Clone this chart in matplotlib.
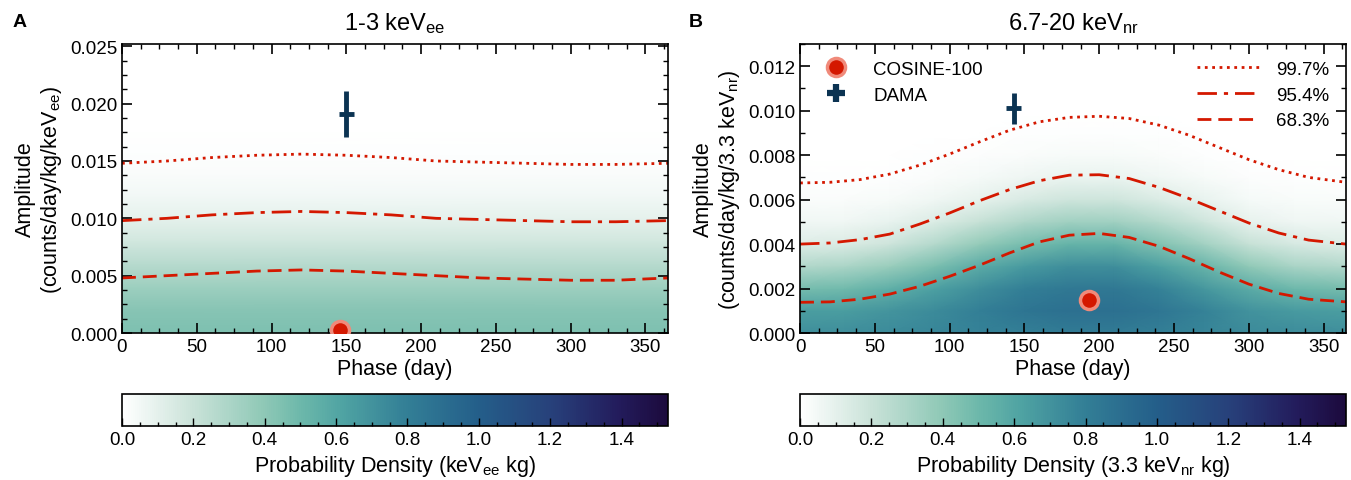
import numpy as np
import matplotlib.pyplot as plt
from matplotlib.colors import LinearSegmentedColormap
from matplotlib.lines import Line2D
from matplotlib.ticker import AutoMinorLocator, MultipleLocator

plt.rcParams['font.family'] = ['Liberation Sans', 'DejaVu Sans']
plt.rcParams['mathtext.default'] = 'regular'

# ---- data ----
# credible-band curves, panel A (1-3 keVee)
phase_a = [0, 30, 60, 90, 120, 150, 180, 210, 240, 270, 300, 330, 365]
a_997 = [0.0148, 0.0150, 0.0153, 0.0155, 0.0156, 0.0155, 0.0153, 0.0150, 0.0149, 0.0148, 0.0147, 0.0147, 0.0148]
a_954 = [0.0098, 0.0100, 0.0103, 0.0105, 0.0106, 0.0105, 0.0103, 0.0100, 0.0099, 0.0098, 0.0097, 0.0097, 0.0098]
a_683 = [0.0048, 0.0050, 0.0052, 0.0054, 0.0055, 0.0054, 0.0052, 0.0050, 0.0048, 0.0047, 0.0046, 0.0046, 0.0048]

# panel B (6.7-20 keVnr)
phase_b = [0, 20, 40, 60, 80, 100, 120, 140, 160, 180, 200, 220, 240, 260, 280, 300, 320, 340, 365]
b_997 = [0.00675, 0.00678, 0.00690, 0.00715, 0.00755, 0.00805, 0.00860, 0.00912, 0.00950, 0.00970,
         0.00975, 0.00965, 0.00935, 0.00890, 0.00835, 0.00780, 0.00735, 0.00700, 0.00678]
b_954 = [0.00400, 0.00405, 0.00420, 0.00445, 0.00490, 0.00540, 0.00595, 0.00645, 0.00685, 0.00710,
         0.00712, 0.00695, 0.00655, 0.00605, 0.00550, 0.00495, 0.00450, 0.00418, 0.00400]
b_683 = [0.00138, 0.00140, 0.00152, 0.00175, 0.00210, 0.00255, 0.00305, 0.00360, 0.00410, 0.00440,
         0.00448, 0.00430, 0.00390, 0.00335, 0.00275, 0.00220, 0.00178, 0.00152, 0.00140]

# best fits / DAMA points: phase, amplitude, errors
cosine_a = (146, 0.0003)
cosine_b = (193, 0.0015)
dama_a = (150, 0.0191, 5, 0.0020)
dama_b = (143, 0.0101, 5, 0.0007)

# probability density maps (rows: amplitude, cols: phase)
dens_amp_a = [0.000, 0.002, 0.004, 0.006, 0.008, 0.010, 0.012, 0.014, 0.016, 0.018, 0.020, 0.022, 0.026]
dens_a_profile = [0.45, 0.42, 0.35, 0.26, 0.17, 0.10, 0.05, 0.022, 0.009, 0.003, 0.001, 0.0, 0.0]
dens_phase_a = [0, 365]

dens_amp_b = [0.000, 0.001, 0.002, 0.003, 0.004, 0.005, 0.006, 0.007, 0.008, 0.009, 0.010, 0.011, 0.012, 0.013]
dens_phase_b = [0, 30, 60, 90, 120, 150, 180, 210, 240, 270, 300, 330, 365]
dens_b_cols = [
    [0.72, 0.64, 0.47, 0.28, 0.13, 0.055, 0.022, 0.006, 0.0, 0, 0, 0, 0, 0],
    [0.72, 0.65, 0.49, 0.30, 0.14, 0.055, 0.022, 0.007, 0.0, 0, 0, 0, 0, 0],
    [0.74, 0.69, 0.55, 0.36, 0.19, 0.085, 0.032, 0.011, 0.003, 0, 0, 0, 0, 0],
    [0.76, 0.74, 0.63, 0.46, 0.27, 0.135, 0.055, 0.021, 0.006, 0.002, 0, 0, 0, 0],
    [0.78, 0.80, 0.72, 0.57, 0.38, 0.21, 0.095, 0.037, 0.013, 0.004, 0.001, 0, 0, 0],
    [0.80, 0.86, 0.80, 0.66, 0.47, 0.29, 0.145, 0.062, 0.023, 0.007, 0.002, 0, 0, 0],
    [0.82, 0.89, 0.84, 0.72, 0.53, 0.34, 0.185, 0.082, 0.031, 0.010, 0.003, 0.001, 0, 0],
    [0.82, 0.89, 0.84, 0.72, 0.53, 0.34, 0.185, 0.082, 0.031, 0.010, 0.003, 0.001, 0, 0],
    [0.80, 0.85, 0.78, 0.63, 0.44, 0.27, 0.135, 0.057, 0.021, 0.006, 0.002, 0, 0, 0],
    [0.77, 0.78, 0.68, 0.52, 0.33, 0.18, 0.085, 0.032, 0.011, 0.003, 0, 0, 0, 0],
    [0.74, 0.70, 0.57, 0.39, 0.21, 0.095, 0.037, 0.013, 0.004, 0, 0, 0, 0, 0],
    [0.73, 0.66, 0.50, 0.31, 0.15, 0.065, 0.024, 0.008, 0.002, 0, 0, 0, 0, 0],
    [0.72, 0.64, 0.47, 0.28, 0.13, 0.055, 0.022, 0.006, 0.0, 0, 0, 0, 0, 0],
]

cmap = LinearSegmentedColormap.from_list('dens', [
    (0.00, '#ffffff'), (0.13, '#c9e2d8'), (0.26, '#8ec8b6'), (0.33, '#6bb7aa'),
    (0.40, '#50a4a3'), (0.52, '#337f96'), (0.65, '#245f8a'), (0.79, '#27407a'),
    (0.91, '#231c5c'), (1.00, '#1c0a3d')])
vmax = 1.53

red = '#d41800'
navy = '#0b3352'
line_styles = [(':', 99.7), ((0, (7, 2.5, 1.5, 2.5)), 95.4), ((0, (5, 2.5)), 68.3)]


def style_axes(ax, ymax, ymajor, yminor_n):
    ax.set_xlim(0, 365)
    ax.set_ylim(0, ymax)
    ax.xaxis.set_major_locator(MultipleLocator(50))
    ax.xaxis.set_minor_locator(AutoMinorLocator(4))
    ax.yaxis.set_major_locator(MultipleLocator(ymajor))
    ax.yaxis.set_minor_locator(AutoMinorLocator(yminor_n))
    ax.tick_params(which='both', direction='in', top=True, right=True, labelsize=13.5)
    ax.tick_params(which='major', length=7, width=1.2)
    ax.tick_params(which='minor', length=3.5, width=1)
    for s in ax.spines.values():
        s.set_linewidth(1.2)
    ax.set_xlabel('Phase (day)', fontsize=15.5, labelpad=2)


def add_cbar(fig, mesh, left, label):
    cax = fig.add_axes([left, 0.1123, 0.4041, 0.0665])
    cb = fig.colorbar(mesh, cax=cax, orientation='horizontal')
    cb.set_ticks(np.arange(0, 1.41, 0.2))
    cb.ax.xaxis.set_minor_locator(MultipleLocator(0.05))
    cb.ax.tick_params(which='both', direction='in', labelsize=13.5, top=False)
    cb.ax.tick_params(which='major', length=6, width=1)
    cb.ax.tick_params(which='minor', length=3, width=1)
    cb.outline.set_linewidth(1.2)
    cb.set_label(label, fontsize=15.5, labelpad=4)


fig = plt.figure(figsize=(13.51, 4.81), dpi=100)

# ---------------- panel A ----------------
axa = fig.add_axes([0.0903, 0.3056, 0.4041, 0.6008])
za = np.tile(np.array(dens_a_profile)[:, None], (1, len(dens_phase_a)))
mesh_a = axa.pcolormesh(dens_phase_a, dens_amp_a, za, cmap=cmap, vmin=0, vmax=vmax,
                        shading='gouraud', rasterized=True)
for (ls, _), ys in zip(line_styles, [a_997, a_954, a_683]):
    axa.plot(phase_a, ys, color=red, ls=ls, lw=2)
axa.errorbar(dama_a[0], dama_a[1], xerr=dama_a[2], yerr=dama_a[3], fmt='none',
             ecolor=navy, elinewidth=3.5, capsize=0, zorder=5)
axa.plot(cosine_a[0], cosine_a[1], 'o', ms=13, color=red, mec='#f08a7a', mew=2.5, zorder=6)
style_axes(axa, 0.0252, 0.005, 4)
axa.set_ylabel('Amplitude\n(counts/day/kg/keV$_{ee}$)', fontsize=15.5, labelpad=4)
axa.set_title('1-3 keV$_{ee}$', fontsize=17, pad=11)
fig.text(0.009, 0.943, 'A', fontsize=14, fontweight='bold')
add_cbar(fig, mesh_a, 0.0903, 'Probability Density (keV$_{ee}$ kg)')

# ---------------- panel B ----------------
axb = fig.add_axes([0.5922, 0.3056, 0.4041, 0.6008])
zb = np.array(dens_b_cols).T
mesh_b = axb.pcolormesh(dens_phase_b, dens_amp_b, zb, cmap=cmap, vmin=0, vmax=vmax,
                        shading='gouraud', rasterized=True)
line_handles = []
for (ls, lev), ys in zip(line_styles, [b_997, b_954, b_683]):
    h, = axb.plot(phase_b, ys, color=red, ls=ls, lw=2, label=f'{lev}%')
    line_handles.append(h)
axb.errorbar(dama_b[0], dama_b[1], xerr=dama_b[2], yerr=dama_b[3], fmt='none',
             ecolor=navy, elinewidth=3.5, capsize=0, zorder=5)
axb.plot(cosine_b[0], cosine_b[1], 'o', ms=13, color=red, mec='#f08a7a', mew=2.5, zorder=6)
style_axes(axb, 0.0130, 0.002, 2)
axb.set_ylabel('Amplitude\n(counts/day/kg/3.3 keV$_{nr}$)', fontsize=15.5, labelpad=4)
axb.set_title('6.7-20 keV$_{nr}$', fontsize=17, pad=11)
fig.text(0.510, 0.943, 'B', fontsize=14, fontweight='bold')

mk_handles = [Line2D([], [], ls='none', marker='o', ms=13, color=red, mec='#f08a7a', mew=2.5),
              Line2D([], [], ls='none', marker='+', ms=13, mew=4.5, color=navy)]
leg1 = axb.legend(mk_handles, ['COSINE-100', 'DAMA'], loc='upper left', frameon=False,
                  fontsize=13.5, handletextpad=1.0, borderaxespad=0.5, labelspacing=0.45)
axb.add_artist(leg1)
axb.legend(handles=line_handles, loc='upper right', frameon=False, fontsize=13.5,
           handlelength=3.3, handletextpad=0.9, borderaxespad=0.5, labelspacing=0.45)
add_cbar(fig, mesh_b, 0.5922, 'Probability Density (3.3 keV$_{nr}$ kg)')

fig.savefig('out.png', dpi=100)
